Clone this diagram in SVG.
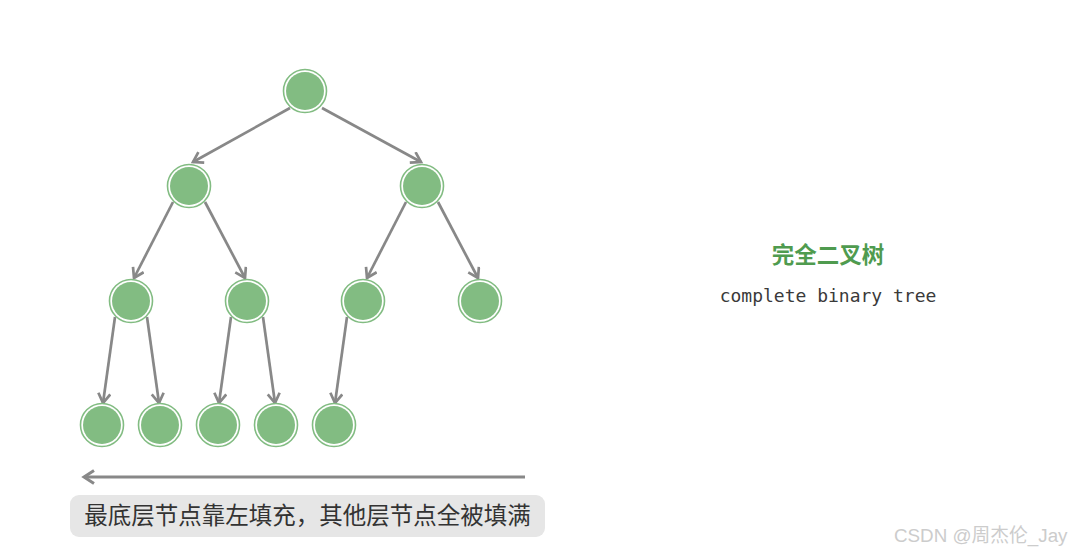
<svg xmlns="http://www.w3.org/2000/svg" width="1076" height="556" viewBox="0 0 1076 556">
<defs>
<style>
.node .ring{fill:#ffffff;stroke:#82bc82;stroke-width:1.6}
.node .core{fill:#82bc82}
.edge{stroke:#888888;stroke-width:2.7;fill:none;marker-end:url(#arr)}
.cjk{font-family:"Noto Sans CJK SC","Noto Sans",sans-serif}
</style>
<marker id="arr" markerUnits="userSpaceOnUse" markerWidth="16" markerHeight="16" refX="11" refY="7" orient="auto">
<path d="M1.5,1 L11,7 L1.5,13" fill="none" stroke="#888888" stroke-width="2.7" stroke-linejoin="miter"/>
</marker>
<marker id="arrL" markerUnits="userSpaceOnUse" markerWidth="18" markerHeight="18" refX="12" refY="8" orient="auto">
<path d="M2,1.5 L12,8 L2,14.5" fill="none" stroke="#888888" stroke-width="3"/>
</marker>
</defs>
<rect width="1076" height="556" fill="#ffffff"/>
<g id="connectors">
<line class="edge" x1="290" y1="108" x2="193" y2="162"/>
<line class="edge" x1="322" y1="108" x2="421" y2="162"/>
<line class="edge" x1="173" y1="202" x2="134" y2="278"/>
<line class="edge" x1="205" y1="202" x2="245" y2="278"/>
<line class="edge" x1="406" y1="202" x2="367" y2="278"/>
<line class="edge" x1="438" y1="202" x2="478" y2="278"/>
<line class="edge" x1="115" y1="317" x2="103" y2="403"/>
<line class="edge" x1="147" y1="317" x2="159" y2="403"/>
<line class="edge" x1="231" y1="317" x2="219" y2="403"/>
<line class="edge" x1="263" y1="317" x2="275" y2="403"/>
<line class="edge" x1="347" y1="317" x2="335" y2="403"/>
</g>
<g id="n0" class="node"><circle class="ring" cx="305" cy="91" r="21.5"/><circle class="core" cx="305" cy="91" r="19"/></g>
<g id="n1" class="node"><circle class="ring" cx="189" cy="186" r="21.5"/><circle class="core" cx="189" cy="186" r="19"/></g>
<g id="n2" class="node"><circle class="ring" cx="422" cy="186" r="21.5"/><circle class="core" cx="422" cy="186" r="19"/></g>
<g id="n3" class="node"><circle class="ring" cx="131" cy="301" r="21.5"/><circle class="core" cx="131" cy="301" r="19"/></g>
<g id="n4" class="node"><circle class="ring" cx="247" cy="301" r="21.5"/><circle class="core" cx="247" cy="301" r="19"/></g>
<g id="n5" class="node"><circle class="ring" cx="363" cy="301" r="21.5"/><circle class="core" cx="363" cy="301" r="19"/></g>
<g id="n6" class="node"><circle class="ring" cx="480" cy="301" r="21.5"/><circle class="core" cx="480" cy="301" r="19"/></g>
<g id="n7" class="node"><circle class="ring" cx="102" cy="425" r="21.5"/><circle class="core" cx="102" cy="425" r="19"/></g>
<g id="n8" class="node"><circle class="ring" cx="160" cy="425" r="21.5"/><circle class="core" cx="160" cy="425" r="19"/></g>
<g id="n9" class="node"><circle class="ring" cx="218" cy="425" r="21.5"/><circle class="core" cx="218" cy="425" r="19"/></g>
<g id="n10" class="node"><circle class="ring" cx="276" cy="425" r="21.5"/><circle class="core" cx="276" cy="425" r="19"/></g>
<g id="n11" class="node"><circle class="ring" cx="334" cy="425" r="21.5"/><circle class="core" cx="334" cy="425" r="19"/></g>
<g id="fill-direction">
<line x1="525" y1="477" x2="84" y2="477" stroke="#888888" stroke-width="3" marker-end="url(#arrL)"/>
</g>
<g id="caption">
<rect x="70" y="495" width="475" height="42" rx="9" fill="#e6e6e6"/>
<text x="307.5" y="524" text-anchor="middle" class="cjk" font-size="23.5" fill="#333333">最底层节点靠左填充，其他层节点全被填满</text>
</g>
<g id="title">
<text x="828" y="263" text-anchor="middle" class="cjk" font-size="22.5" font-weight="bold" fill="#4f9b4f">完全二叉树</text>
<text x="828" y="302" text-anchor="middle" font-family="DejaVu Sans Mono,monospace" font-size="18" fill="#3a3a3a">complete binary tree</text>
</g>
<text x="894" y="542" font-family="Liberation Sans,'Noto Sans CJK SC',sans-serif" font-size="18.8" fill="#cccccc">CSDN @周杰伦_Jay</text>
</svg>
